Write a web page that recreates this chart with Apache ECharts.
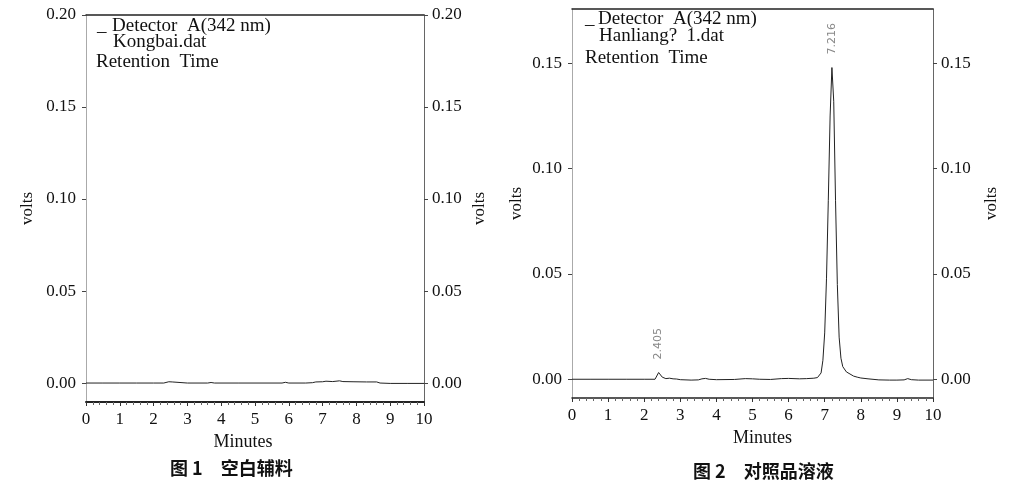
<!DOCTYPE html>
<html><head><meta charset="utf-8">
<script src="https://cdn.jsdelivr.net/npm/echarts@6/dist/echarts.min.js"></script>
<style>html,body{margin:0;padding:0;background:#fff}#c{width:1009px;height:488px}</style>
</head><body><div id="c"></div>
<script>
// ---- data ----
const xTicks = [0,1,2,3,4,5,6,7,8,9,10];
const yTicksLeftChart = [0, 0.05, 0.10, 0.15, 0.20];
const yTicksRightChart = [0, 0.05, 0.10, 0.15];
const blankTime = [0,0.5,1,1.5,2,2.3,2.35,2.45,2.55,2.6,3.0,3.6,3.7,3.8,4.5,5.0,5.8,5.9,6.0,6.5,6.7,6.8,7.0,7.1,7.3,7.5,7.6,7.9,8.3,8.6,8.7,9.0,9.5,10];
const blankVolts = [0,0,0,0,0,0,0.0006,0.0007,0.0006,0,0,0,0.0003,0,0,0,0,0.0004,0,0,0.0002,0.0006,0.0007,0.001,0.0008,0.0012,0.0008,0.0007,0.0006,0.0006,0,-0.0002,-0.0002,-0.0002];
const refTime = [0,0.5,1.0,1.5,2.0,2.3,2.35,2.4,2.45,2.5,2.55,2.6,2.7,2.8,2.9,3.0,3.3,3.5,3.6,3.7,3.8,4.0,4.5,4.8,5.0,5.2,5.5,5.8,6.0,6.3,6.5,6.7,6.8,6.85,6.9,6.95,7.0,7.05,7.1,7.15,7.2,7.25,7.3,7.35,7.4,7.45,7.5,7.6,7.7,7.8,7.9,8.0,8.2,8.5,8.8,9.0,9.2,9.3,9.4,9.6,10];
const refVolts = [0,0,0,0,0,0,0.0008,0.0032,0.0024,0.0010,0.0005,0.0003,0.0005,0.0002,0.0001,-0.0002,-0.0004,-0.0003,0.0002,0.0004,0,-0.0002,-0.0001,0.0003,0.0002,0,-0.0001,0.0003,0.0004,0.0002,0.0003,0.0005,0.0008,0.0015,0.003,0.009,0.022,0.048,0.085,0.125,0.148,0.132,0.085,0.045,0.020,0.010,0.006,0.0035,0.0025,0.0015,0.001,0.0006,0.0002,-0.0003,-0.0004,-0.0004,-0.0003,0.0003,-0.0002,-0.0004,-0.0004];
const peakLabels = ['2.405','7.216'];
const peakTimes = [2.4, 7.2];
const legendLeft = ['Detector  A(342 nm)', 'Kongbai.dat', 'Retention  Time'];
const legendRight = ['Detector  A(342 nm)', 'Hanliang?  1.dat', 'Retention  Time'];
const captions = ['图 1　空白辅料', '图 2　对照品溶液'];
const xName = 'Minutes';
const yName = 'volts';

// ---- chart ----
const serif = 'Liberation Serif';
const ink = '#111';
function xBottom(gi, lineW, pad){
  return {type:'value', gridIndex:gi, position:'bottom', min:0, max:10, interval:1,
    name:xName, nameLocation:'middle', nameGap:30,
    nameTextStyle:{fontFamily:serif, fontSize:18, color:ink, padding:pad},
    axisLine:{show:true, onZero:false, lineStyle:{color:'#222', width:lineW}},
    axisTick:{show:true, length:4, lineStyle:{color:'#333'}},
    minorTick:{show:true, splitNumber:5, length:3, lineStyle:{color:'#666'}},
    axisLabel:{fontFamily:serif, fontSize:17, color:ink, margin:9, customValues:xTicks},
    splitLine:{show:false}};
}
function xTop(gi){
  return {type:'value', gridIndex:gi, position:'top', min:0, max:10,
    axisLine:{show:true, onZero:false, lineStyle:{color:'#222', width:1.5}},
    axisTick:{show:false}, axisLabel:{show:false}, splitLine:{show:false}};
}
function yAx(gi, pos, min, max, ticks, nameGap, lineColor){
  return {type:'value', gridIndex:gi, position:pos, min:min, max:max,
    name:yName, nameLocation:'middle', nameGap:nameGap, nameRotate:90,
    nameTextStyle:{fontFamily:serif, fontSize:17, color:ink},
    axisLine:{show:true, onZero:false, lineStyle:{color:lineColor, width:1}},
    axisTick:{show:true, length:4, customValues:ticks, lineStyle:{color:'#444'}},
    axisLabel:{fontFamily:serif, fontSize:17, color:ink, margin:pos==='left'?10:8,
      customValues:ticks, formatter:v=>v.toFixed(2)},
    splitLine:{show:false}};
}
const pairs = (xs, ys) => xs.map((x,i)=>[x, ys[i]]);
const peakMarks = peakTimes.map((t,i)=>({coord:[t, refVolts[refTime.indexOf(t)]], name:peakLabels[i]}));

function legendTexts(xs, ys, lines){
  const out = [{type:'text', left:xs[0], top:ys[0], style:{text:'_', font:'19px "Liberation Serif"', fill:ink}}];
  lines.forEach((s,i)=>out.push({type:'text', left:xs[i+1], top:ys[i],
    style:{text:s, font:'19px "Liberation Serif"', fill:ink}}));
  return out;
}

const option = {
  backgroundColor:'#fff',
  animation:false,
  grid:[
    {left:86, top:15, width:338, height:387},
    {left:572, top:9, width:361, height:389}
  ],
  xAxis:[xBottom(0, 2, [0,24,0,0]), xTop(0), xBottom(1, 1.5, [0,0,0,20]), xTop(1)],
  yAxis:[
    yAx(0,'left', -0.0103, 0.2, yTicksLeftChart, 50, '#aaa'),
    yAx(0,'right', -0.0103, 0.2, yTicksLeftChart, 47, '#666'),
    yAx(1,'left', -0.0089, 0.1758, yTicksRightChart, 47, '#aaa'),
    yAx(1,'right', -0.0089, 0.1758, yTicksRightChart, 50, '#666')
  ],
  series:[
    {type:'line', xAxisIndex:0, yAxisIndex:0, data:pairs(blankTime, blankVolts),
      showSymbol:false, lineStyle:{color:'#222', width:1}},
    {type:'line', xAxisIndex:2, yAxisIndex:2, data:pairs(refTime, refVolts),
      showSymbol:false, lineStyle:{color:'#222', width:1},
      markPoint:{symbol:'circle', symbolSize:0, silent:true,
        label:{show:true, position:'top', distance:13, rotate:90, align:'left', verticalAlign:'middle',
          formatter:p=>p.name, fontFamily:'DejaVu Sans', fontSize:11, color:'#888'},
        data:peakMarks}}
  ],
  graphic:[
    ...legendTexts([97, 112, 113, 96], [17, 33, 53], legendLeft),
    ...legendTexts([585, 598, 599, 585], [10, 27, 49], legendRight),
    {type:'text', left:170, top:459, style:{text:captions[0], font:'bold 18px "Noto Sans CJK SC"', fill:ink}},
    {type:'text', left:693, top:462, style:{text:captions[1], font:'bold 18px "Noto Sans CJK SC"', fill:ink}}
  ]
};
echarts.init(document.getElementById('c')).setOption(option);
</script></body></html>
